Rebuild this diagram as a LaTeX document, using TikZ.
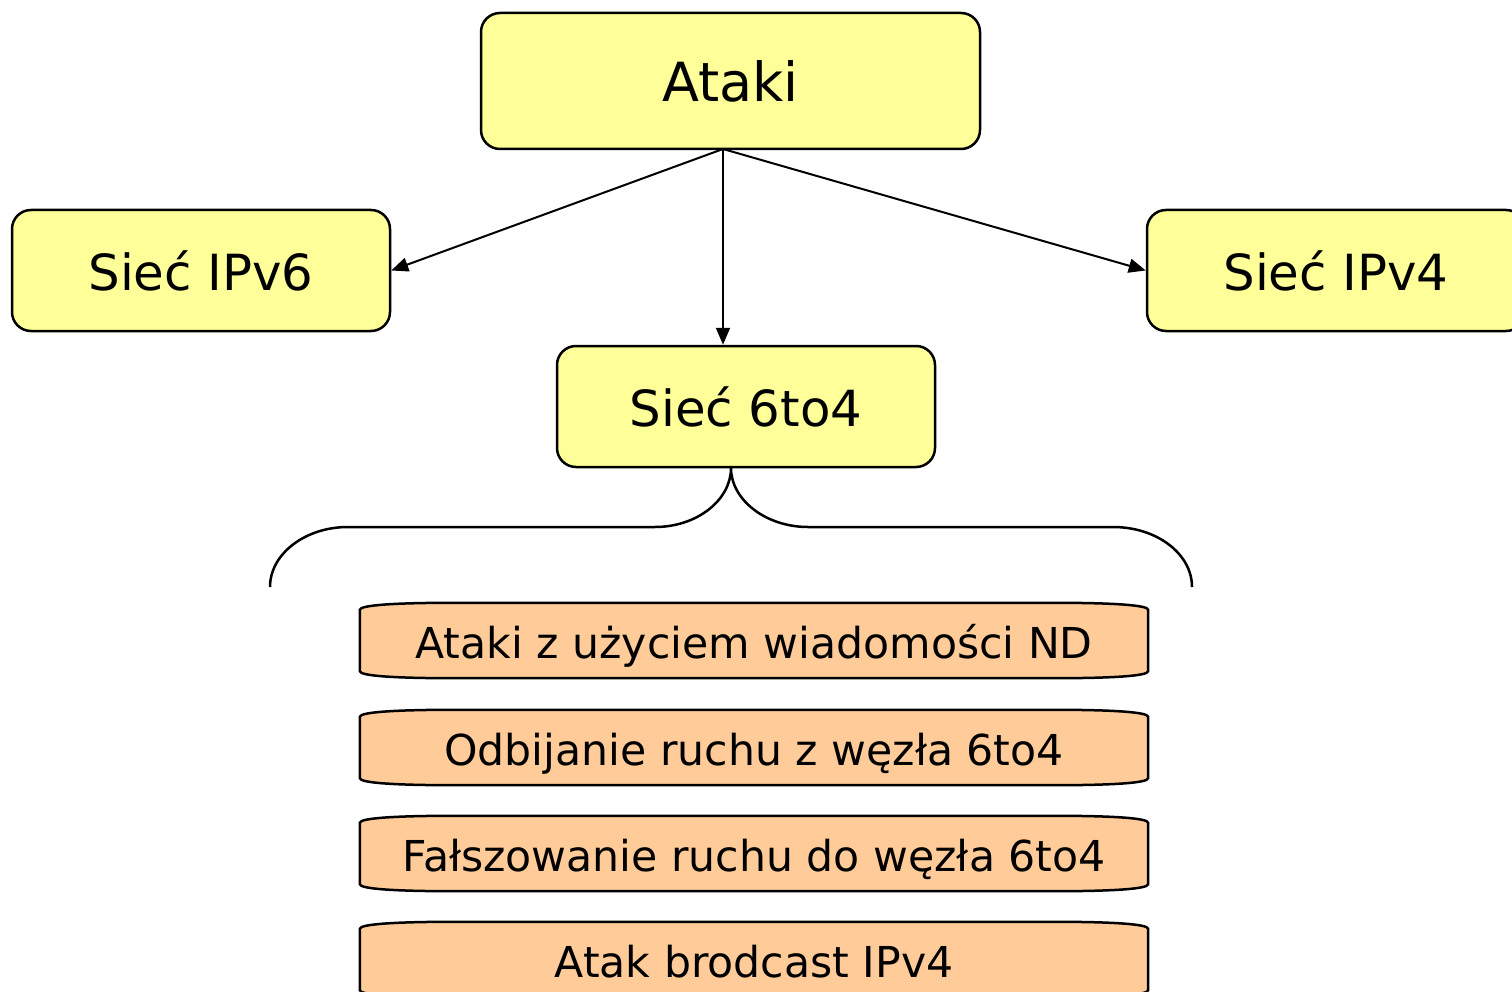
\documentclass[tikz,border=0pt]{standalone}
\usepackage{fontspec}
\setmainfont{DejaVu Sans}
\usetikzlibrary{arrows.meta,calc,backgrounds}
\definecolor{boxyellow}{HTML}{FFFF99}
\definecolor{boxorange}{HTML}{FFCC99}
\tikzset{
  topic/.style={draw=black, line width=2.5pt, fill=boxyellow, rounded corners=19pt,
    inner sep=0pt, minimum width=378pt, minimum height=121pt,
    font=\fontsize{49.8}{58}\selectfont},
  item/.style={inner sep=0pt, minimum width=788pt, minimum height=75pt,
    text height=42pt, text depth=7pt,
    font=\fontsize{42.6}{50}\selectfont},
  tabshape/.style={draw=black, line width=2.5pt, fill=boxorange},
  link/.style={line width=2pt, -{Triangle[length=17pt,width=14pt]}},
  brace/.style={line width=2.5pt},
}
\begin{document}
\begin{tikzpicture}[x=1pt,y=-1pt]
  \useasboundingbox (0,0) rectangle (1512,992);
  \clip (0,0) rectangle (1512,992);

  % top-level boxes
  \node[topic, minimum width=499pt, minimum height=136pt, font=\fontsize{54}{64}\selectfont]
    (ataki) at (730.5,81) {Ataki};
  \node[topic] (ipv6) at (201,270.5) {Sieć IPv6};
  \node[topic] (ipv4) at (1336,270.5) {Sieć IPv4};
  \node[topic] (sixtofour) at (746,406.5) {Sieć 6to4};

  % arrows from the top box
  \coordinate (hub) at (723,149);
  \draw[link] (hub) -- (ipv6.east);
  \draw[link] (hub) -- (ipv4.west);
  \draw[link] (hub) -- (hub |- sixtofour.north);

  % brace under the 6to4 box
  \coordinate (tip) at (731,468);
  \draw[brace] (270,587) .. controls (270,554) and (305,527) .. (348,527)
    -- (655,527) .. controls (697,527) and (731,500) .. (tip)
    .. controls (731,500) and (766,527) .. (808,527)
    -- (1113,527) .. controls (1157,527) and (1192,554) .. (1192,587);

  % list of attacks
  \node[item] (o1) at (754,640.5) {Ataki z użyciem wiadomości ND};
  \node[item] (o2) at (754,747.5) {Odbijanie ruchu z węzła 6to4};
  \node[item] (o3) at (754,853.5) {Fałszowanie ruchu do węzła 6to4};
  \node[item] (o4) at (754,959.5) {Atak brodcast IPv4};

  % tab-like outlines behind the list entries
  \begin{scope}[on background layer]
    \foreach \nm in {o1,o2,o3,o4} {
      \path let \p1 = (\nm.north west), \p2 = (\nm.south east) in
        [tabshape] (\x1, \y1-7) .. controls (\x1, \y1-2) and (\x1+40, \y1) .. (\x1+93, \y1)
        -- (\x2-93, \y1) .. controls (\x2-40, \y1) and (\x2, \y1-2) .. (\x2, \y1-7)
        -- (\x2, \y2+7) .. controls (\x2, \y2+2) and (\x2-40, \y2) .. (\x2-93, \y2)
        -- (\x1+93, \y2) .. controls (\x1+40, \y2) and (\x1, \y2+2) .. (\x1, \y2+7)
        -- cycle;
    }
  \end{scope}
\end{tikzpicture}
\end{document}
